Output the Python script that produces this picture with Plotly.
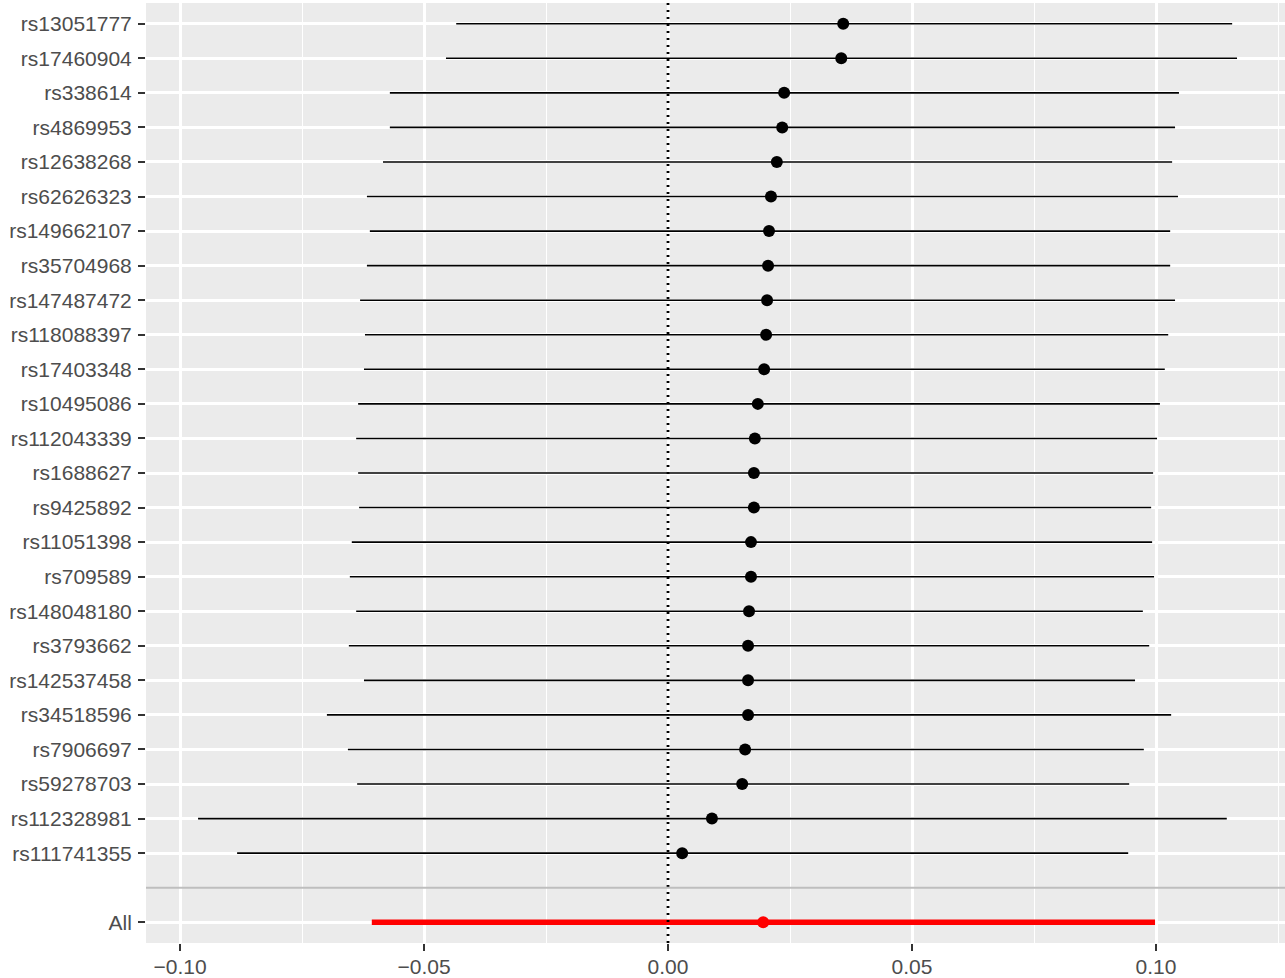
import plotly.graph_objects as go

snps = ["rs13051777", "rs17460904", "rs338614", "rs4869953", "rs12638268",
        "rs62626323", "rs149662107", "rs35704968", "rs147487472", "rs118088397",
        "rs17403348", "rs10495086", "rs112043339", "rs1688627", "rs9425892",
        "rs11051398", "rs709589", "rs148048180", "rs3793662", "rs142537458",
        "rs34518596", "rs7906697", "rs59278703", "rs112328981", "rs111741355"]
est = [0.0359, 0.0355, 0.0238, 0.0234, 0.0223, 0.0211, 0.0207, 0.0205, 0.0203, 0.0201,
       0.0197, 0.0184, 0.0178, 0.0176, 0.0176, 0.0170, 0.0170, 0.0166, 0.0164, 0.0164,
       0.0164, 0.0158, 0.0152, 0.0090, 0.0029]
lo = [-0.0434, -0.0455, -0.0570, -0.0570, -0.0584, -0.0617, -0.0611, -0.0617, -0.0631, -0.0621,
      -0.0623, -0.0635, -0.0639, -0.0635, -0.0633, -0.0648, -0.0652, -0.0639, -0.0654, -0.0623,
      -0.0699, -0.0656, -0.0637, -0.0963, -0.0883]
hi = [0.1156, 0.1166, 0.1047, 0.1039, 0.1033, 0.1045, 0.1029, 0.1029, 0.1039, 0.1025,
      0.1018, 0.1008, 0.1002, 0.0994, 0.0990, 0.0992, 0.0996, 0.0973, 0.0986, 0.0957,
      0.1031, 0.0975, 0.0945, 0.1145, 0.0943]

all_label = "All"
all_est = 0.0195
all_lo = -0.0607
all_hi = 0.0998

x_tickvals = [-0.10, -0.05, 0.00, 0.05, 0.10]
x_ticktext = ["\u22120.10", "\u22120.05", "0.00", "0.05", "0.10"]
x_minor = [-0.075, -0.025, 0.025, 0.075, 0.125]

n = len(snps)
ypos = [n + 1 - i for i in range(n)]  # 26 .. 2
all_y = 0
sep_y = 1

fig = go.Figure()

fig.add_vline(x=0, line=dict(color="black", width=2.8, dash="2px,5px"), layer="above")

fig.add_trace(go.Scatter(
    x=est, y=ypos, mode="markers",
    marker=dict(color="black", size=12),
    error_x=dict(type="data", symmetric=False,
                 array=[h - e for h, e in zip(hi, est)],
                 arrayminus=[e - l for e, l in zip(est, lo)],
                 width=0, thickness=1.6, color="black"),
    showlegend=False, hoverinfo="skip"))

fig.add_trace(go.Scatter(
    x=[all_est], y=[all_y], mode="markers",
    marker=dict(color="#FF0000", size=12),
    error_x=dict(type="data", symmetric=False,
                 array=[all_hi - all_est], arrayminus=[all_est - all_lo],
                 width=0, thickness=5.5, color="#FF0000"),
    showlegend=False, hoverinfo="skip"))

fig.add_shape(type="line", xref="paper", x0=0, x1=1, yref="y", y0=sep_y, y1=sep_y,
              line=dict(color="#BEBEBE", width=2), layer="above")

font_family = "Liberation Sans, Arial, sans-serif"

fig.update_layout(
    width=1285, height=978,
    margin=dict(l=146, r=0, t=3, b=35, autoexpand=False),
    paper_bgcolor="white", plot_bgcolor="#EBEBEB",
    font=dict(family=font_family, size=21, color="#4D4D4D"),
    xaxis=dict(range=[-0.10697, 0.12643], tickvals=x_tickvals, ticktext=x_ticktext,
               showgrid=True, gridcolor="white", gridwidth=2.6, zeroline=False,
               ticks="outside", ticklen=7, tickwidth=1.8, tickcolor="#333333",
               tickfont=dict(size=21, color="#4D4D4D"), showline=False,
               automargin=False, ticklabelstandoff=-2,
               minor=dict(tickvals=x_minor, showgrid=True, gridcolor="white",
                          gridwidth=1.3, ticks="")),
    yaxis=dict(range=[-0.6, 26.6], tickvals=ypos + [all_y], ticktext=snps + [all_label],
               showgrid=True, gridcolor="white", gridwidth=2.6, zeroline=False,
               ticks="outside", ticklen=7, tickwidth=1.8, tickcolor="#333333",
               tickfont=dict(size=21, color="#4D4D4D"), showline=False,
               automargin=False, ticklabelstandoff=2),
)

fig.write_html("out.html", config={"displayModeBar": False},
               post_script="document.body.style.margin='0';document.body.style.overflow='hidden';")
